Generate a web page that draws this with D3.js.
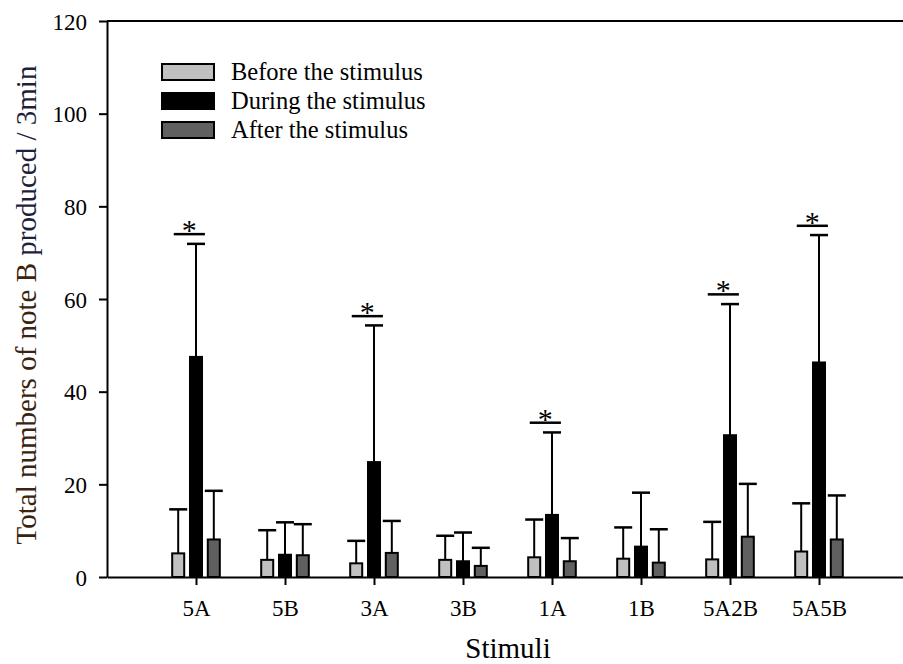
<!DOCTYPE html>
<html>
<head>
<meta charset="utf-8">
<script src="https://cdn.jsdelivr.net/npm/d3@7"></script>
<style>
  body { margin: 0; background: #fff; }
  svg { display: block; font-family: "Liberation Serif", "Times New Roman", serif; }
</style>
</head>
<body>
<div id="canvas"></div>
<script>
// data (mean and SD above mean)
var stimuli = ['5A', '5B', '3A', '3B', '1A', '1B', '5A2B', '5A5B'];
var before = [5.1, 3.7, 2.95, 3.7, 4.25, 3.95, 3.8, 5.5];
var beforeSD = [9.5, 6.4, 4.85, 5.2, 8.15, 6.75, 8.1, 10.4];
var during = [47.5, 4.8, 24.8, 3.4, 13.4, 6.55, 30.6, 46.3];
var duringSD = [24.4, 7.0, 29.5, 6.2, 17.8, 11.65, 28.3, 27.5];
var after = [8.1, 4.7, 5.2, 2.4, 3.4, 3.1, 8.7, 8.1];
var afterSD = [10.5, 6.7, 6.9, 3.9, 5.0, 7.2, 11.4, 9.5];
var sigLevel = [74.0, null, 56.3, null, 33.3, null, 61.0, 75.8];
var seriesNames = ['Before the stimulus', 'During the stimulus', 'After the stimulus'];
var yTicks = [0, 20, 40, 60, 80, 100, 120];

var W = 903, H = 664;
var colors = ['#c0c0c0', '#000000', '#606060'];
var offsets = [-0.2, 0, 0.2];

var svg = d3.select('#canvas').append('svg')
    .attr('width', W)
    .attr('height', H);

var x = d3.scaleLinear().domain([0, 9]).range([107, 908]);
var y = d3.scaleLinear().domain([0, 120]).range([577, 21]);
var barW = x(0.135) - x(0);

// build rows from arrays
var series = [before, during, after].map(function(vals, s) {
    var sds = [beforeSD, duringSD, afterSD][s];
    return vals.map(function(v, i) {
        return {s: s, i: i, value: v, sd: sds[i]};
    });
});
var rows = d3.merge(series);

// y axis
var axisY = d3.axisLeft(y).tickValues(yTicks).tickSize(8).tickSizeOuter(0).tickPadding(12);
var gy = svg.append('g').attr('transform', 'translate(107,0)').call(axisY);
gy.selectAll('text').style('font-size', '23px').style('font-family', '"Liberation Serif", serif').attr('dy', '0.36em');

// x axis
var axisX = d3.axisBottom(x).tickValues(d3.range(1, 9)).tickSize(8).tickSizeOuter(0)
    .tickFormat(function(d) { return stimuli[d - 1]; });
var gx = svg.append('g').attr('transform', 'translate(0,577)').call(axisX);
gx.selectAll('text').style('font-size', '23px').style('font-family', '"Liberation Serif", serif')
    .attr('y', 39).attr('dy', 0);

svg.selectAll('.domain, .tick line').attr('stroke', '#000').attr('stroke-width', 2);

// top frame line
svg.append('line')
    .attr('x1', x(0)).attr('x2', W)
    .attr('y1', y(120)).attr('y2', y(120))
    .attr('stroke', '#000').attr('stroke-width', 2);

// error bars
var plot = svg.append('g');
rows.forEach(function(d) {
    var cx = x(d.i + 1 + offsets[d.s]);
    plot.append('line')
        .attr('x1', cx).attr('x2', cx)
        .attr('y1', y(d.value)).attr('y2', y(d.value + d.sd))
        .attr('stroke', '#000').attr('stroke-width', 2);
    plot.append('line')
        .attr('x1', cx - 9).attr('x2', cx + 9)
        .attr('y1', y(d.value + d.sd)).attr('y2', y(d.value + d.sd))
        .attr('stroke', '#000').attr('stroke-width', 2.5);
});

// bars
plot.selectAll('rect.bar')
    .data(rows)
    .enter()
    .append('rect')
    .attr('class', 'bar')
    .attr('x', function(d) { return x(d.i + 1 + offsets[d.s]) - barW / 2; })
    .attr('y', function(d) { return y(d.value); })
    .attr('width', barW)
    .attr('height', function(d) { return y(0) - y(d.value); })
    .attr('fill', function(d) { return colors[d.s]; })
    .attr('stroke', '#000')
    .attr('stroke-width', 2);

// significance marks
sigLevel.forEach(function(v, i) {
    if (v == null) return;
    var x1 = x(i + 1 - 0.25), x2 = x(i + 1 + 0.1);
    svg.append('line')
        .attr('x1', x1).attr('x2', x2)
        .attr('y1', y(v)).attr('y2', y(v))
        .attr('stroke', '#000').attr('stroke-width', 2.5);
    svg.append('text')
        .attr('x', (x1 + x2) / 2).attr('y', y(v) + 6)
        .attr('text-anchor', 'middle')
        .style('font-size', '30px')
        .text('*');
});

// legend
var legend = svg.append('g');
seriesNames.forEach(function(name, s) {
    var cy = 72 + s * 29;
    legend.append('rect')
        .attr('x', 162).attr('y', cy - 8)
        .attr('width', 52).attr('height', 16)
        .attr('fill', colors[s]).attr('stroke', '#000').attr('stroke-width', 2);
    legend.append('text')
        .attr('x', 231).attr('y', cy + 8)
        .style('font-size', '24.5px')
        .text(name);
});

// axis titles
svg.append('text')
    .attr('x', 508).attr('y', 658)
    .attr('text-anchor', 'middle')
    .style('font-size', '29px')
    .text('Stimuli');

var yt = svg.append('text')
    .attr('transform', 'translate(36,305) rotate(-90)')
    .attr('text-anchor', 'middle')
    .style('font-size', '29px');
yt.append('tspan').attr('fill', '#3a2410').text('Total numbers of note B ');
yt.append('tspan').attr('fill', '#1c1f3e').text('produced / 3min');
</script>
</body>
</html>
